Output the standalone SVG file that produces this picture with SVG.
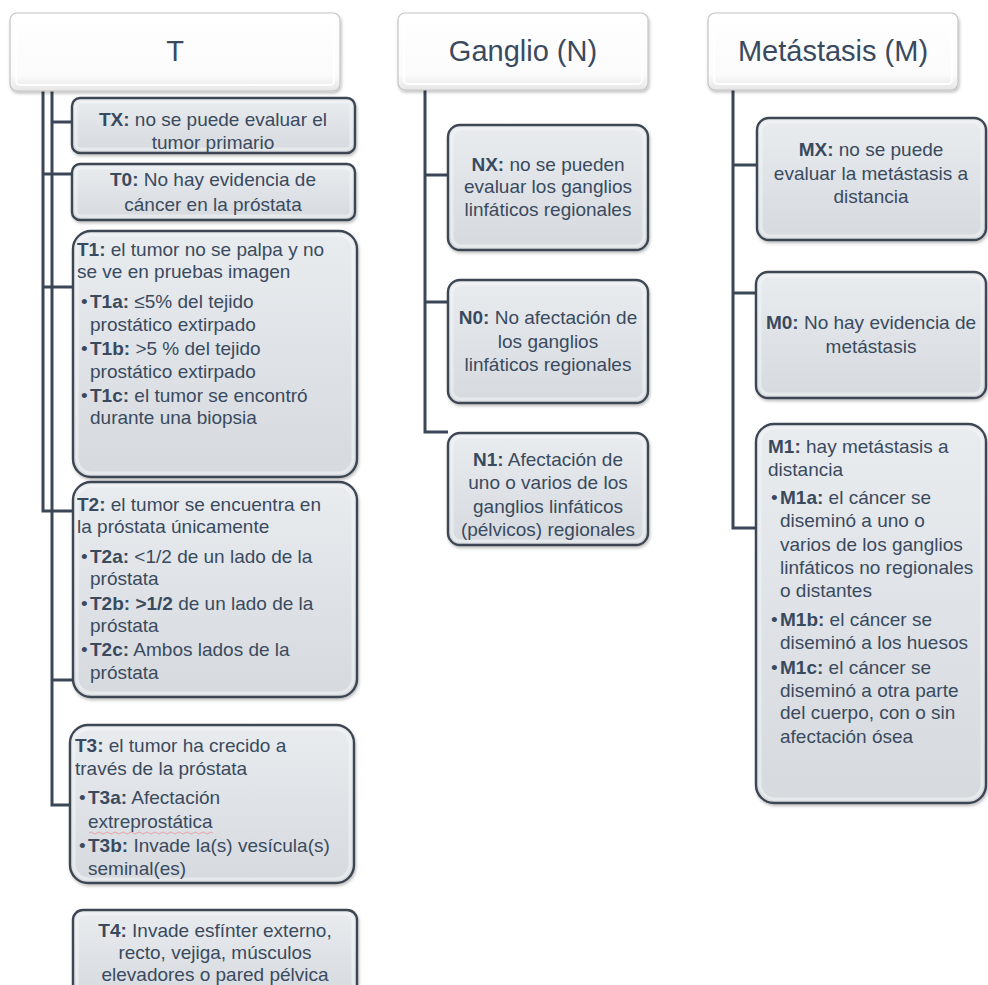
<svg xmlns="http://www.w3.org/2000/svg" width="988" height="985" viewBox="0 0 988 985">
<defs>
<linearGradient id="gHdr" x1="0" y1="0" x2="0" y2="1">
<stop offset="0" stop-color="#ffffff"/>
<stop offset="0.8" stop-color="#fbfbfb"/>
<stop offset="1" stop-color="#e6e6e6"/>
</linearGradient>
<linearGradient id="gBox" x1="0" y1="0" x2="0" y2="1">
<stop offset="0" stop-color="#e9ecef"/>
<stop offset="0.5" stop-color="#dfe3e7"/>
<stop offset="1" stop-color="#d6dade"/>
</linearGradient>
<filter id="sh" x="-10%" y="-10%" width="130%" height="130%">
<feDropShadow dx="1" dy="2" stdDeviation="1.5" flood-color="#000" flood-opacity="0.25"/>
</filter>
</defs>
<style>
.hdr{fill:url(#gHdr);stroke:#c4c4c4;stroke-width:1.2;filter:url(#sh)}
.hin{fill:none;stroke:#ffffff;stroke-width:2;opacity:.9}
.box{fill:url(#gBox);stroke:#3d4652;stroke-width:2.4;filter:url(#sh)}
.bin{fill:none;stroke:#f4f6f8;stroke-width:3;opacity:.55}
text{font-family:"Liberation Sans",Arial,sans-serif;font-size:19px;fill:#3a4a5e}
.ht{font-size:29px;text-anchor:middle}
.c{text-anchor:middle}
.b{font-weight:bold}
.conn{fill:none;stroke:#3b4656;stroke-width:3}
</style>
<rect width="988" height="985" fill="#ffffff"/>

<g id="connectors">
<path class="conn" d="M43,91 V511 H72"/>
<path class="conn" d="M52,91 V805 H72"/>
<path class="conn" d="M52,122 H72"/>
<path class="conn" d="M43,174 H72"/>
<path class="conn" d="M43,287 H73"/>
<path class="conn" d="M52,680 H73"/>
<path class="conn" d="M425,90 V432 H448"/>
<path class="conn" d="M425,175 H448"/>
<path class="conn" d="M425,302 H448"/>
<path class="conn" d="M733,90 V528 H756"/>
<path class="conn" d="M733,165 H757"/>
<path class="conn" d="M733,293 H756"/>
</g>

<g id="hT">
<rect class="hdr" x="10" y="13" width="330" height="78" rx="7"/>
<rect class="hin" x="16" y="19" width="318" height="66" rx="4"/>
<text class="ht" x="175" y="61">T</text>
</g>
<g id="hN">
<rect class="hdr" x="398" y="13" width="250" height="77" rx="7"/>
<rect class="hin" x="404" y="19" width="238" height="65" rx="4"/>
<text class="ht" x="523" y="61">Ganglio (N)</text>
</g>
<g id="hM">
<rect class="hdr" x="708" y="13" width="250" height="77" rx="7"/>
<rect class="hin" x="714" y="19" width="238" height="65" rx="4"/>
<text class="ht" x="833" y="61">Metástasis (M)</text>
</g>

<g id="TX">
<rect class="box" x="72" y="98" width="283" height="55" rx="8"/>
<rect class="bin" x="76" y="102" width="275" height="47" rx="5"/>
<text class="c"><tspan x="213" y="126"><tspan class="b">TX:</tspan> no se puede evaluar el</tspan><tspan x="213" y="149">tumor primario</tspan></text>
</g>
<g id="T0">
<rect class="box" x="72" y="164" width="283" height="56" rx="8"/>
<rect class="bin" x="76" y="168" width="275" height="48" rx="5"/>
<text class="c"><tspan x="213" y="186"><tspan class="b">T0:</tspan> No hay evidencia de</tspan><tspan x="213" y="211">cáncer en la próstata</tspan></text>
</g>
<g id="T1">
<rect class="box" x="73" y="231" width="284" height="246" rx="18"/>
<rect class="bin" x="77" y="235" width="276" height="238" rx="15"/>
<text><tspan x="77" y="256"><tspan class="b">T1:</tspan> el tumor no se palpa y no</tspan><tspan x="77" y="278">se ve en pruebas imagen</tspan><tspan x="81" y="308">•</tspan><tspan x="90" y="308"><tspan class="b">T1a:</tspan> ≤5% del tejido</tspan><tspan x="90" y="331">prostático extirpado</tspan><tspan x="81" y="355">•</tspan><tspan x="90" y="355"><tspan class="b">T1b:</tspan> &gt;5 % del tejido</tspan><tspan x="90" y="378">prostático extirpado</tspan><tspan x="81" y="402">•</tspan><tspan x="90" y="402"><tspan class="b">T1c:</tspan> el tumor se encontró</tspan><tspan x="90" y="424">durante una biopsia</tspan></text>
</g>
<g id="T2">
<rect class="box" x="73" y="482" width="284" height="215" rx="18"/>
<rect class="bin" x="77" y="486" width="276" height="207" rx="15"/>
<text><tspan x="77" y="511"><tspan class="b">T2:</tspan> el tumor se encuentra en</tspan><tspan x="77" y="533">la próstata únicamente</tspan><tspan x="81" y="563">•</tspan><tspan x="90" y="563"><tspan class="b">T2a:</tspan> &lt;1/2 de un lado de la</tspan><tspan x="90" y="585">próstata</tspan><tspan x="81" y="610">•</tspan><tspan x="90" y="610"><tspan class="b">T2b: &gt;1/2</tspan> de un lado de la</tspan><tspan x="90" y="632">próstata</tspan><tspan x="81" y="656">•</tspan><tspan x="90" y="656"><tspan class="b">T2c:</tspan> Ambos lados de la</tspan><tspan x="90" y="679">próstata</tspan></text>
</g>
<g id="T3">
<rect class="box" x="70" y="725" width="284" height="158" rx="18"/>
<rect class="bin" x="74" y="729" width="276" height="150" rx="15"/>
<text><tspan x="75" y="752"><tspan class="b">T3:</tspan> el tumor ha crecido a</tspan><tspan x="75" y="775">través de la próstata</tspan><tspan x="79" y="804">•</tspan><tspan x="88" y="804"><tspan class="b">T3a:</tspan> Afectación</tspan><tspan x="88" y="828">extreprostática</tspan><tspan x="79" y="852">•</tspan><tspan x="88" y="852"><tspan class="b">T3b:</tspan> Invade la(s) vesícula(s)</tspan><tspan x="88" y="875">seminal(es)</tspan></text>
<path d="M89,833 q2,-2 4,0 t4,0 t4,0 t4,0 t4,0 t4,0 t4,0 t4,0 t4,0 t4,0 t4,0 t4,0 t4,0 t4,0 t4,0 t4,0 t4,0 t4,0 t4,0 t4,0 t4,0 t4,0 t4,0 t4,0 t4,0 t4,0 t4,0 t4,0 t4,0 t4,0 t4,0" fill="none" stroke="#e6a3ab" stroke-width="1"/>
</g>
<g id="T4">
<rect class="box" x="73" y="910" width="284" height="90" rx="10"/>
<rect class="bin" x="77" y="914" width="276" height="82" rx="7"/>
<text class="c"><tspan x="215" y="937"><tspan class="b">T4:</tspan> Invade esfínter externo,</tspan><tspan x="215" y="959">recto, vejiga,  músculos</tspan><tspan x="215" y="981">elevadores o pared pélvica</tspan></text>
</g>

<g id="NX">
<rect class="box" x="448" y="125" width="200" height="125" rx="12"/>
<rect class="bin" x="452" y="129" width="192" height="117" rx="9"/>
<text class="c"><tspan x="548" y="171"><tspan class="b">NX:</tspan> no se pueden</tspan><tspan x="548" y="193">evaluar los ganglios</tspan><tspan x="548" y="216">linfáticos regionales</tspan></text>
</g>
<g id="N0">
<rect class="box" x="448" y="280" width="200" height="123" rx="12"/>
<rect class="bin" x="452" y="284" width="192" height="115" rx="9"/>
<text class="c"><tspan x="548" y="324"><tspan class="b">N0:</tspan> No afectación de</tspan><tspan x="548" y="348">los ganglios</tspan><tspan x="548" y="371">linfáticos regionales</tspan></text>
</g>
<g id="N1">
<rect class="box" x="448" y="433" width="200" height="112" rx="12"/>
<rect class="bin" x="452" y="437" width="192" height="104" rx="9"/>
<text class="c"><tspan x="548" y="466"><tspan class="b">N1:</tspan> Afectación de</tspan><tspan x="548" y="489">uno o varios de los</tspan><tspan x="548" y="513">ganglios linfáticos</tspan><tspan x="548" y="536">(pélvicos) regionales</tspan></text>
</g>

<g id="MX">
<rect class="box" x="757" y="118" width="229" height="122" rx="12"/>
<rect class="bin" x="761" y="122" width="221" height="114" rx="9"/>
<text class="c"><tspan x="871" y="156"><tspan class="b">MX:</tspan> no se puede</tspan><tspan x="871" y="180">evaluar la metástasis a</tspan><tspan x="871" y="203">distancia</tspan></text>
</g>
<g id="M0">
<rect class="box" x="756" y="272" width="230" height="126" rx="12"/>
<rect class="bin" x="760" y="276" width="222" height="118" rx="9"/>
<text class="c"><tspan x="871" y="329"><tspan class="b">M0:</tspan> No hay evidencia de</tspan><tspan x="871" y="353">metástasis</tspan></text>
</g>
<g id="M1">
<rect class="box" x="756" y="424" width="230" height="379" rx="18"/>
<rect class="bin" x="760" y="428" width="222" height="371" rx="15"/>
<text><tspan x="768" y="453"><tspan class="b">M1:</tspan> hay metástasis a</tspan><tspan x="768" y="476">distancia</tspan><tspan x="771" y="504">•</tspan><tspan x="780" y="504"><tspan class="b">M1a:</tspan> el cáncer se</tspan><tspan x="780" y="527">diseminó a uno o</tspan><tspan x="780" y="551">varios de los ganglios</tspan><tspan x="780" y="574">linfáticos no regionales</tspan><tspan x="780" y="597">o distantes</tspan><tspan x="771" y="626">•</tspan><tspan x="780" y="626"><tspan class="b">M1b:</tspan> el cáncer se</tspan><tspan x="780" y="649">diseminó a los huesos</tspan><tspan x="771" y="674">•</tspan><tspan x="780" y="674"><tspan class="b">M1c:</tspan> el cáncer se</tspan><tspan x="780" y="697">diseminó a otra parte</tspan><tspan x="780" y="719">del cuerpo, con o sin</tspan><tspan x="780" y="743">afectación ósea</tspan></text>
</g>
</svg>
